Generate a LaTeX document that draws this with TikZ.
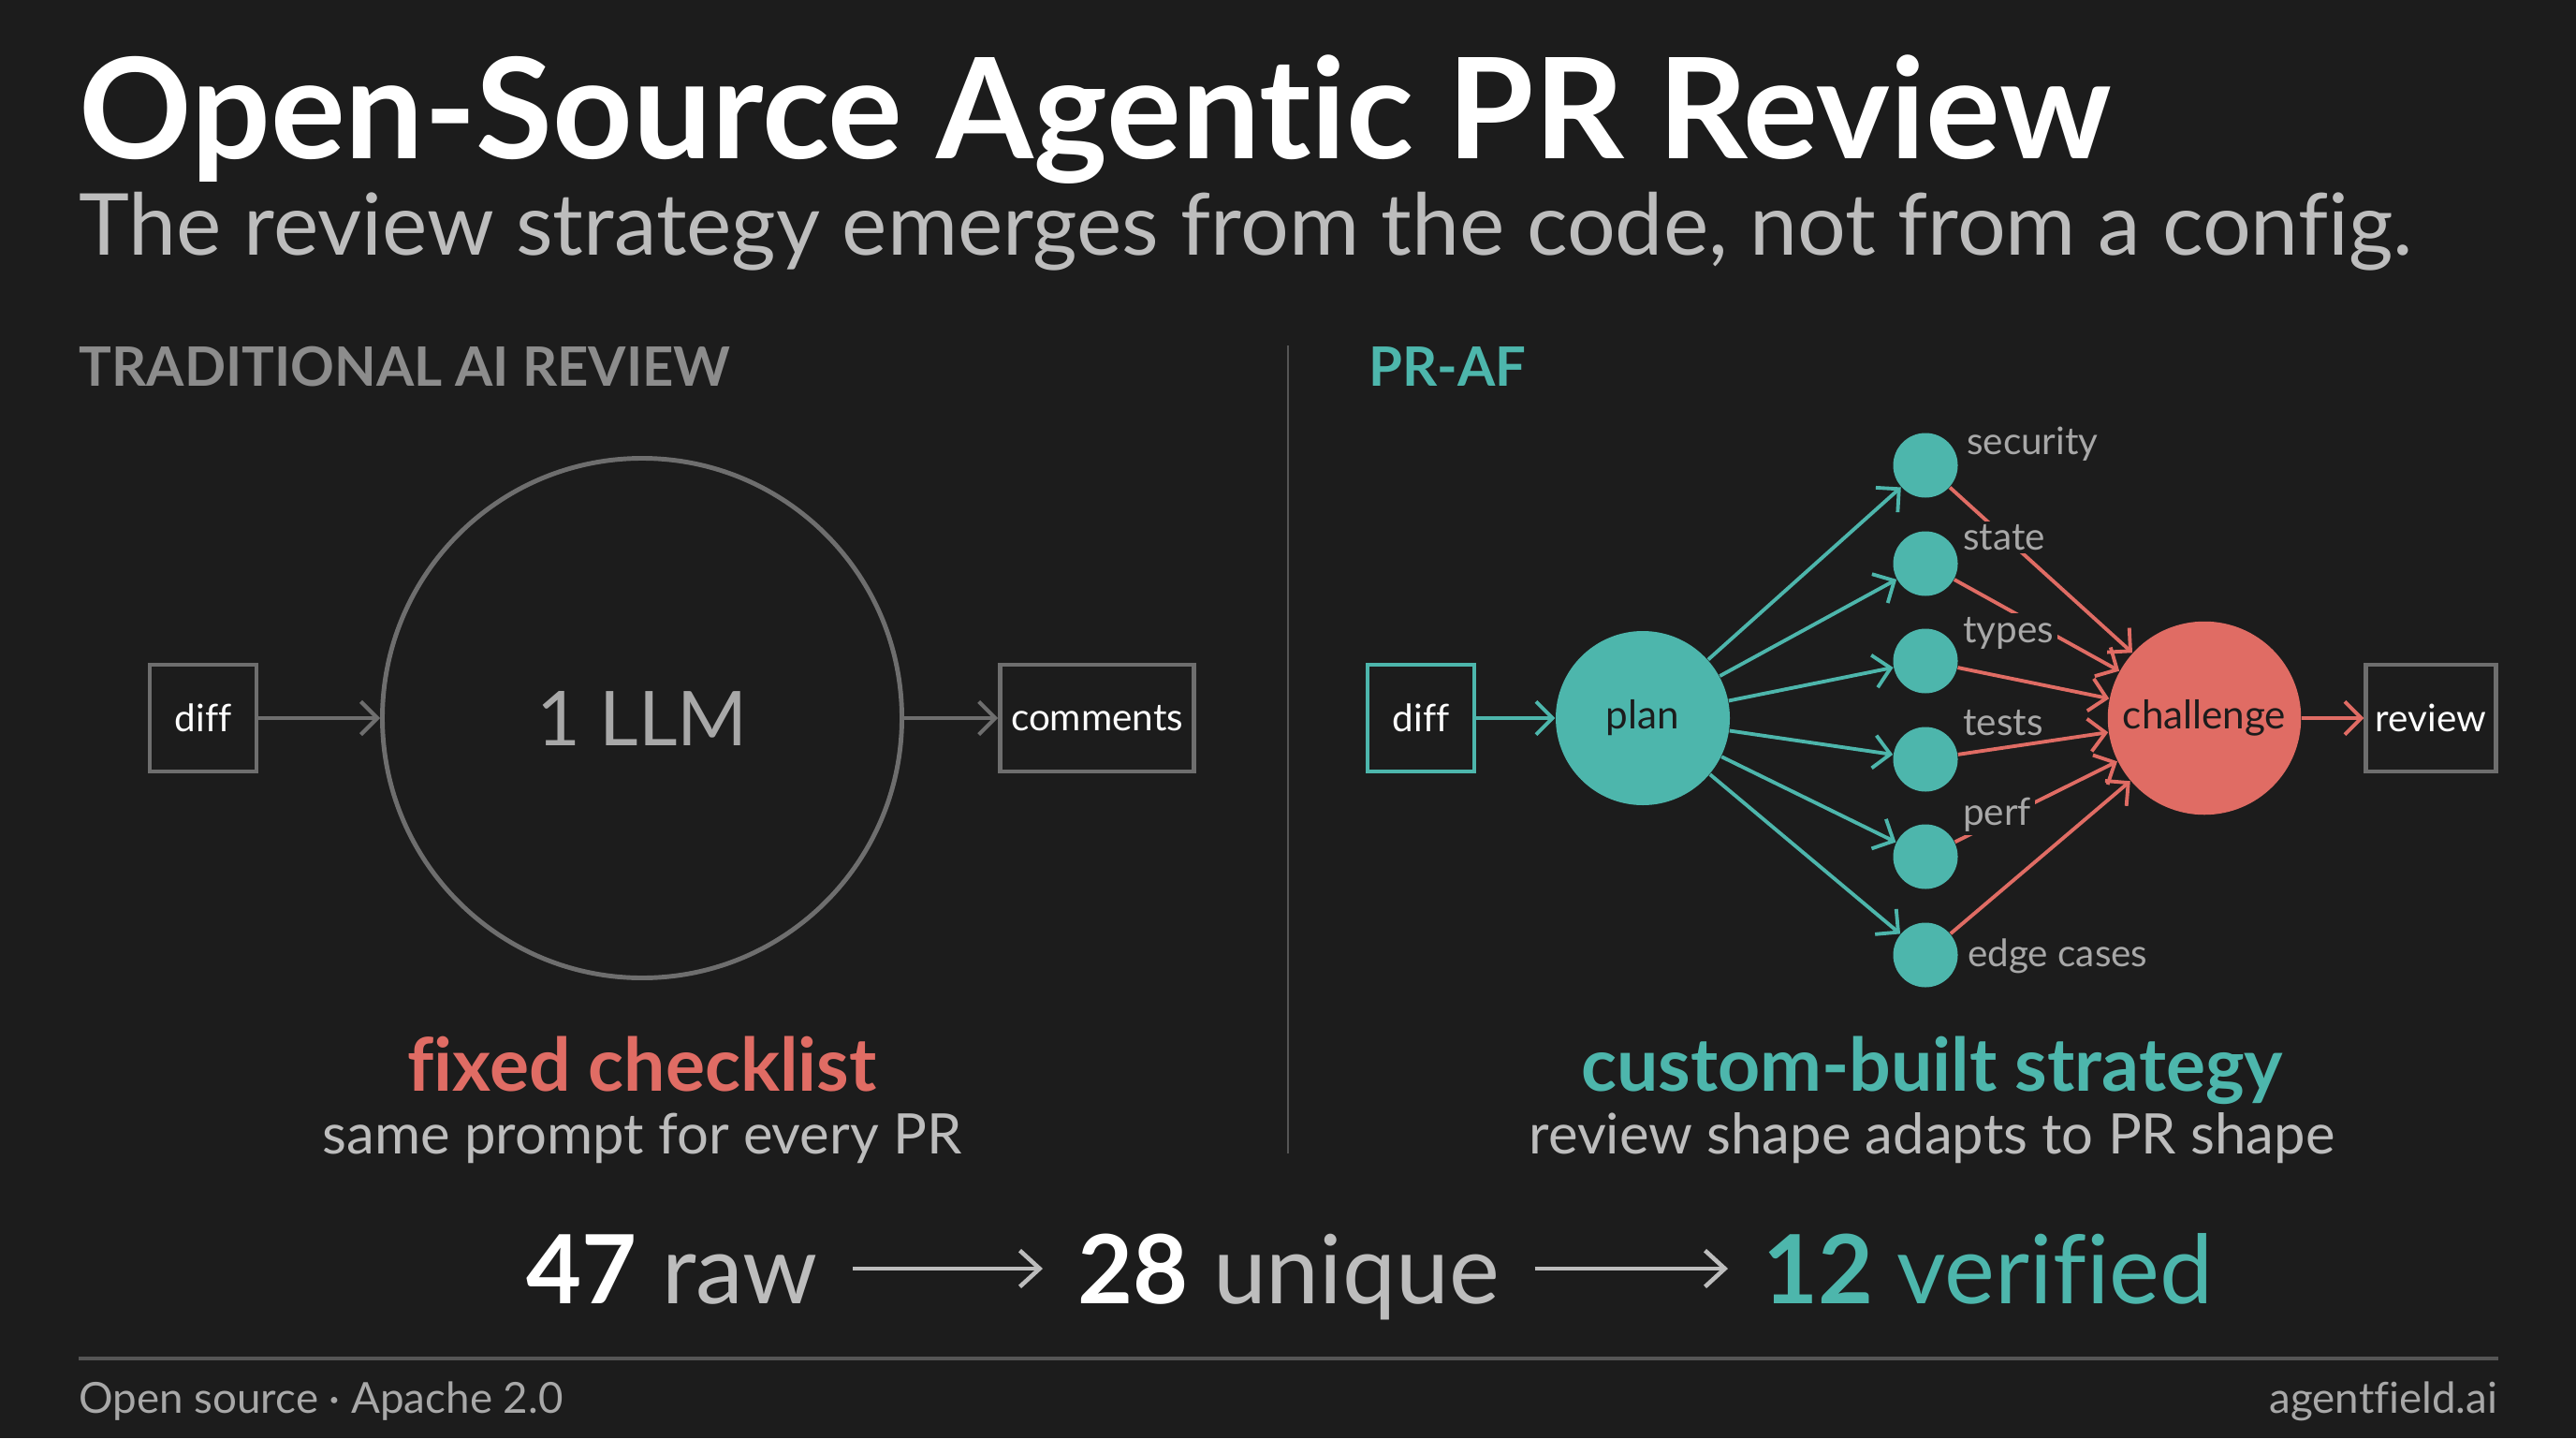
\documentclass[tikz,border=0pt]{standalone}
\usepackage{fontspec}
\setmainfont{Lato}[Ligatures=NoCommon]
\usetikzlibrary{arrows.meta, positioning}
\definecolor{bg}{HTML}{1C1C1C}
\definecolor{prteal}{HTML}{4DB6AC}
\definecolor{prred}{HTML}{E06C64}
\definecolor{subgray}{HTML}{BDBDBD}
\definecolor{headgray}{HTML}{8C8C8C}
\definecolor{lblgray}{HTML}{A8A8A8}
\definecolor{linegray}{HTML}{6E6E6E}
\definecolor{rulegray}{HTML}{555555}

\begin{document}
\begin{tikzpicture}[
  box/.style={draw, line width=1.3pt, minimum width=1.14cm, minimum height=1.14cm, inner sep=2pt, text=white, font=\fontsize{11.5}{14}\selectfont},
  dot/.style={circle, fill=prteal, minimum size=0.69cm, inner sep=0pt},
  lbl/.style={anchor=west, fill=bg, inner sep=1pt, text=lblgray, font=\fontsize{11.5}{14}\selectfont},
  garrow/.style={-{Straight Barb[length=5pt, width=10pt]}, line width=1.2pt, draw=linegray},
  tarrow/.style={-{Straight Barb[length=5pt, width=10pt]}, line width=1.1pt, draw=prteal},
  rarrow/.style={-{Straight Barb[length=5pt, width=10pt]}, line width=1.1pt, draw=prred},
  sarrow/.style={-{Straight Barb[length=6pt, width=11pt]}, line width=1.3pt, draw=subgray, shorten <=0.37cm, shorten >=0.37cm},
  big/.style={anchor=base, inner sep=0pt, font=\fontsize{22.4}{27}\bfseries\selectfont},
  small/.style={anchor=base, inner sep=0pt, font=\fontsize{17}{21}\selectfont, text=subgray},
  stat/.style={anchor=base west, inner sep=0pt, font=\fontsize{29}{34}\selectfont}]
\fill[bg] (0,0) rectangle (27.52,-15.36);

% heading
\node[anchor=base west, inner sep=0pt, text=white, font=\fontsize{42.5}{50}\bfseries\selectfont] (title) at (0.84,-1.70) {Open-Source Agentic PR Review};
\node[anchor=base west, inner sep=0pt, text=subgray, font=\fontsize{26}{31}\selectfont] (sub) at (0.84,-2.72) {The review strategy emerges from the code, not from a config.};
\node[anchor=base west, inner sep=0pt, text=headgray, font=\fontsize{16.5}{20}\bfseries\selectfont] (trad) at (0.84,-4.12) {TRADITIONAL AI REVIEW};
\node[anchor=base west, inner sep=0pt, text=prteal, font=\fontsize{16.5}{20}\bfseries\selectfont] (praf) at (14.62,-4.12) {PR-AF};
\draw[rulegray, line width=0.7pt] (13.76,-3.69) -- (13.76,-12.32);

% traditional
\node[box, draw=linegray] (ldiff) at (2.17,-7.67) {diff};
\node[circle, draw=linegray, line width=1.4pt, minimum size=5.55cm, text=lblgray, font=\fontsize{23}{28}\selectfont] (llm) at (6.86,-7.67) {1 LLM};
\node[box, draw=linegray, minimum width=2.07cm] (comm) at (11.72,-7.67) {comments};
\draw[garrow] (ldiff) -- (llm);
\draw[garrow] (llm) -- (comm);
\node[big, text=prred] (fixed) at (6.86,-11.65) {fixed checklist};
\node[small] (same) at (6.86,-12.32) {same prompt for every PR};

% pr-af
\node[box, draw=prteal] (rdiff) at (15.18,-7.67) {diff};
\node[circle, fill=prteal, minimum size=1.86cm, text=bg, font=\fontsize{12}{14}\selectfont] (plan) at (17.55,-7.67) {plan};
\node[dot] (sec) at (20.57,-4.97) {};
\node[dot] (state) at (20.57,-6.02) {};
\node[dot] (types) at (20.57,-7.06) {};
\node[dot] (tests) at (20.57,-8.11) {};
\node[dot] (perf) at (20.57,-9.15) {};
\node[dot] (edge) at (20.57,-10.20) {};
\node[circle, fill=prred, minimum size=1.83cm, text=bg, font=\fontsize{12}{14}\selectfont] (chal) at (23.55,-7.67) {challenge};
\node[box, draw=linegray, minimum width=1.39cm] (rev) at (25.97,-7.67) {review};
\draw[tarrow] (rdiff) -- (plan);
\draw[tarrow] (plan) -- (sec);
\draw[tarrow] (plan) -- (state);
\draw[tarrow] (plan) -- (types);
\draw[tarrow] (plan) -- (tests);
\draw[tarrow] (plan) -- (perf);
\draw[tarrow] (plan) -- (edge);
\draw[rarrow] (sec) -- (chal);
\draw[rarrow] (state) -- (chal);
\draw[rarrow] (types) -- (chal);
\draw[rarrow] (tests) -- (chal);
\draw[rarrow] (perf) -- (chal);
\draw[rarrow] (edge) -- (chal);
\draw[rarrow] (chal) -- (rev);
\node[lbl] (lsec) at (20.97,-4.74) {security};
\node[lbl] (lstate) at (20.93,-5.74) {state};
\node[lbl] (ltypes) at (20.93,-6.76) {types};
\node[lbl] (ltests) at (20.93,-7.72) {tests};
\node[lbl] (lperf) at (20.93,-8.70) {perf};
\node[lbl] (ledge) at (20.98,-10.21) {edge cases};
\node[big, text=prteal] (custom) at (20.64,-11.65) {custom-built strategy};
\node[small] (adapt) at (20.64,-12.32) {review shape adapts to PR shape};

% numbers
\node[stat] (raw) at (5.62,-13.92) {\textcolor{white}{\bfseries 47} \textcolor{subgray}{raw}};
\node[stat] (uniq) at (11.51,-13.92) {\textcolor{white}{\bfseries 28} \textcolor{subgray}{unique}};
\node[stat, text=prteal] (ver) at (18.83,-13.92) {\bfseries 12 \mdseries verified};
\draw[sarrow] ([yshift=0.37cm]raw.base east) -- ([yshift=0.37cm]uniq.base west);
\draw[sarrow] ([yshift=0.37cm]uniq.base east) -- ([yshift=0.37cm]ver.base west);

% footer
\draw[rulegray, line width=1pt] (0.84,-14.51) -- (26.69,-14.51);
\node[anchor=base west, inner sep=0pt, text=lblgray, font=\fontsize{13}{16}\selectfont] (lic) at (0.84,-15.09) {Open source · Apache 2.0};
\node[anchor=base east, inner sep=0pt, text=lblgray, font=\fontsize{13}{16}\selectfont] (site) at (26.69,-15.09) {agentfield.ai};
\end{tikzpicture}
\end{document}
